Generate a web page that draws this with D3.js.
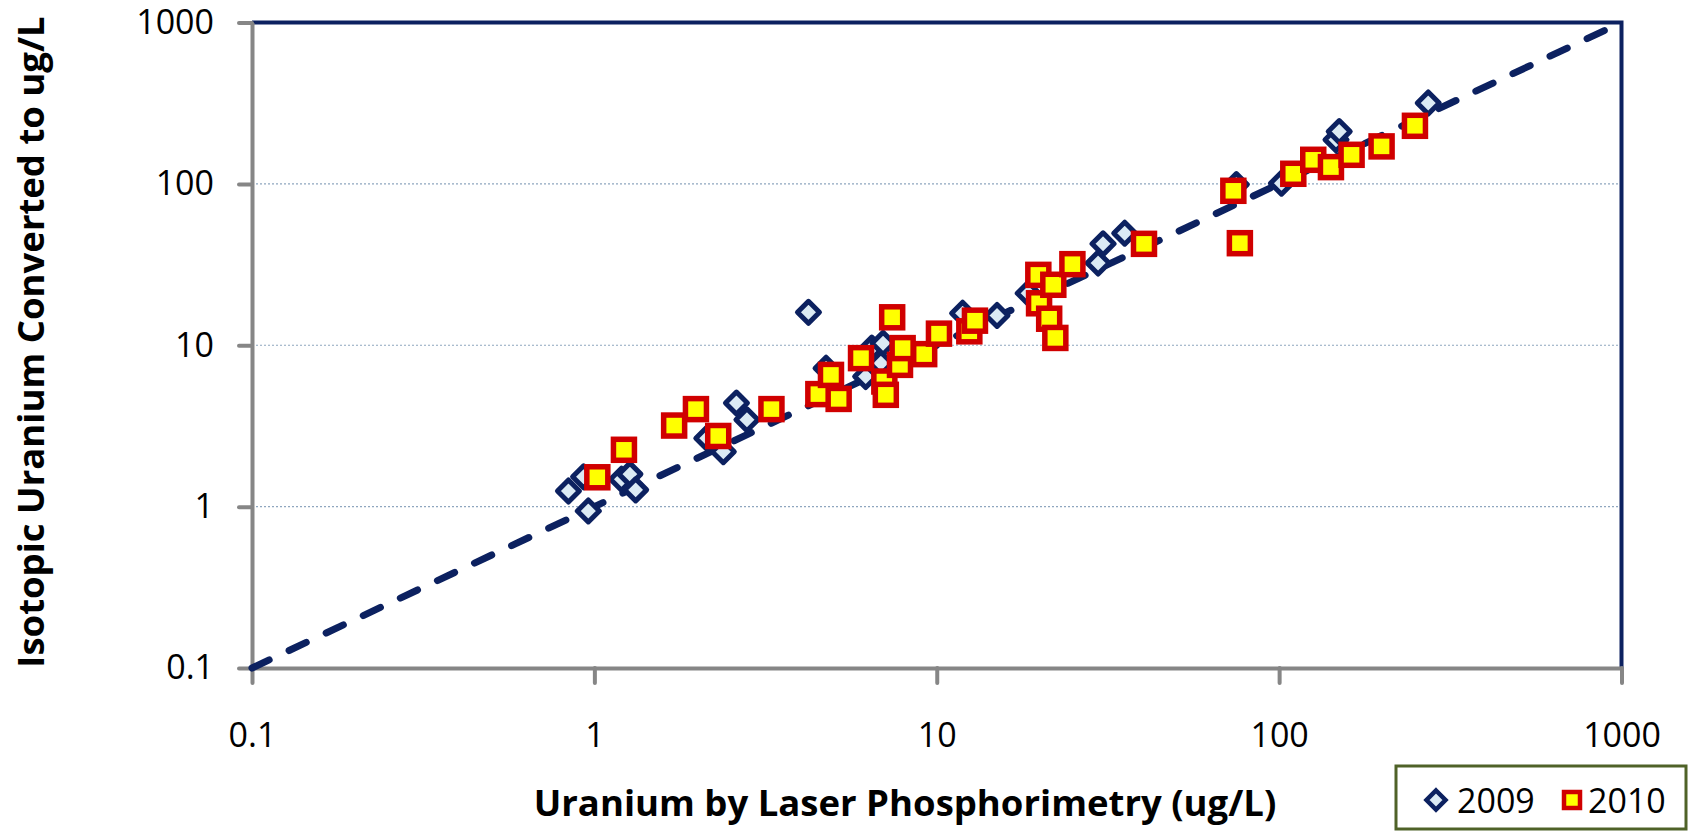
<!DOCTYPE html>
<meta charset="utf-8">
<head>
    <script src="https://cdnjs.cloudflare.com/ajax/libs/d3/7.8.5/d3.min.js"></script>
    <style>
    body { margin: 0; background: #fff; }
    .tick text { font-family: "Open Sans", "Liberation Sans", sans-serif; font-size: 34px; fill: #000; }
    .axis path, .axis line { stroke: #868686; stroke-width: 4; }
    .axis line { stroke-linecap: round; }
    .title { font-family: "Open Sans", "Liberation Sans", sans-serif; font-weight: bold; font-size: 36.5px; fill: #000; }
    </style>
</head>
<body>
    <script>
    // values (ug/L)
    var x2009 = [0.84, 0.96, 0.93, 1.20, 1.27, 1.32, 2.13, 2.38, 2.60, 2.79, 4.22, 4.75, 6.2, 6.46, 6.87, 6.97,
                 11.9, 15.0, 18.5, 29.6, 30.6, 35.4, 75, 101.6, 146.6, 149.8, 272.6];
    var y2009 = [1.25, 0.94, 1.53, 1.48, 1.59, 1.27, 2.65, 2.19, 4.38, 3.45, 16.0, 7.2, 6.4, 9.6, 7.74, 10.3,
                 15.8, 15.3, 21.0, 32.3, 42.5, 49.5, 99, 101, 187.6, 211, 317];
    var x2010 = [1.02, 1.22, 1.71, 1.98, 2.30, 3.29, 4.51, 4.91, 5.17, 6.01, 7.03, 7.10, 7.41, 7.81, 7.95, 9.19,
                 10.15, 12.45, 12.93, 19.8, 19.9, 21.3, 21.9, 22.2, 24.9, 40.3, 73.5, 76.8, 110, 125.8,
                 141.7, 162.8, 199.2, 249.3];
    var y2010 = [1.52, 2.25, 3.18, 4.02, 2.74, 4.02, 4.98, 6.55, 4.65, 8.32, 5.96, 4.93, 14.9, 7.56, 9.6, 8.81,
                 11.8, 12.2, 14.2, 27.3, 18.2, 14.6, 23.7, 11.1, 31.8, 42.5, 90.6, 42.9, 115.5, 141,
                 127, 151.4, 170.7, 229];
    var oneToOne = [0.1, 1000];
    var tickValues = [0.1, 1, 10, 100, 1000];
    var seriesNames = ["2009", "2010"];

    var navy = "#0c2160";

    // plot area box
    var plotLeft = 252, plotRight = 1621.5, plotTop = 22.5, plotBottom = 668;

    var svg = d3.select("body").append("svg")
        .attr("width", 1690)
        .attr("height", 833);

    var x = d3.scaleLog().domain([0.1, 1000]).range([plotLeft, plotRight]);
    var y = d3.scaleLog().domain([0.1, 1000]).range([plotBottom, plotTop]);

    // gridlines
    svg.append("g").selectAll("line")
        .data(tickValues.slice(1, -1))
        .enter().append("line")
        .attr("x1", plotLeft).attr("x2", plotRight)
        .attr("y1", function(d) { return y(d); })
        .attr("y2", function(d) { return y(d); })
        .attr("stroke", "#8fa6bf")
        .attr("stroke-width", 1.2)
        .attr("stroke-dasharray", "2,2");

    // top and right frame
    svg.append("path")
        .attr("d", "M" + plotLeft + "," + plotTop + "H" + plotRight + "V" + plotBottom)
        .attr("fill", "none")
        .attr("stroke", navy)
        .attr("stroke-width", 4);

    // axes
    svg.append("g")
        .attr("class", "axis")
        .attr("transform", "translate(" + plotLeft + ",0)")
        .call(d3.axisLeft(y).tickValues(tickValues).tickFormat(function(d) { return d; })
            .tickSize(13).tickSizeOuter(0).tickPadding(25));
    svg.append("g")
        .attr("class", "axis")
        .attr("transform", "translate(0," + plotBottom + ")")
        .call(d3.axisBottom(x).tickValues(tickValues).tickFormat(function(d) { return d; })
            .tickSize(15).tickSizeOuter(0).tickPadding(40));
    svg.selectAll(".axis").attr("font-family", null).attr("font-size", null);

    // 1:1 line
    svg.append("line")
        .attr("x1", x(oneToOne[0])).attr("y1", y(oneToOne[0]))
        .attr("x2", x(oneToOne[1])).attr("y2", y(oneToOne[1]))
        .attr("stroke", navy)
        .attr("stroke-width", 7)
        .attr("stroke-linecap", "round")
        .attr("stroke-dasharray", "19,22");

    var diamond = function(r) { return "M0," + (-r) + "L" + r + ",0L0," + r + "L" + (-r) + ",0Z"; };

    // 2009 diamonds
    svg.append("g").selectAll("path")
        .data(x2009)
        .enter().append("path")
        .attr("d", diamond(11))
        .attr("transform", function(d, i) { return "translate(" + x(d) + "," + y(y2009[i]) + ")"; })
        .attr("fill", "#dbeaf4")
        .attr("stroke", navy)
        .attr("stroke-width", 5)
        .attr("stroke-linejoin", "round");

    // 2010 squares
    svg.append("g").selectAll("rect")
        .data(x2010)
        .enter().append("rect")
        .attr("x", function(d) { return x(d) - 10.5; })
        .attr("y", function(d, i) { return y(y2010[i]) - 10.5; })
        .attr("width", 21).attr("height", 21)
        .attr("fill", "#ffff00")
        .attr("stroke", "#d00000")
        .attr("stroke-width", 5.5);

    // axis titles
    svg.append("text")
        .attr("class", "title")
        .attr("transform", "translate(44,342) rotate(-90)")
        .attr("text-anchor", "middle")
        .text("Isotopic Uranium Converted to ug/L");
    svg.append("text")
        .attr("class", "title")
        .attr("x", 905).attr("y", 816)
        .attr("text-anchor", "middle")
        .text("Uranium by Laser Phosphorimetry (ug/L)");

    // legend
    var legend = svg.append("g");
    legend.append("rect")
        .attr("x", 1396).attr("y", 766)
        .attr("width", 290).attr("height", 63)
        .attr("fill", "#fff")
        .attr("stroke", "#4f6228")
        .attr("stroke-width", 3);
    legend.append("path")
        .attr("d", diamond(9.5))
        .attr("transform", "translate(1436,800)")
        .attr("fill", "#dbeaf4")
        .attr("stroke", navy)
        .attr("stroke-width", 4.5);
    legend.append("rect")
        .attr("x", 1564).attr("y", 792)
        .attr("width", 16).attr("height", 16)
        .attr("fill", "#ffff00")
        .attr("stroke", "#d00000")
        .attr("stroke-width", 4.5);
    legend.selectAll("text")
        .data(seriesNames)
        .enter().append("text")
        .attr("x", function(d, i) { return i === 0 ? 1457 : 1588; })
        .attr("y", 813)
        .attr("font-family", "'Open Sans', 'Liberation Sans', sans-serif")
        .attr("font-size", 34)
        .text(function(d) { return d; });
    </script>
</body>
</html>
